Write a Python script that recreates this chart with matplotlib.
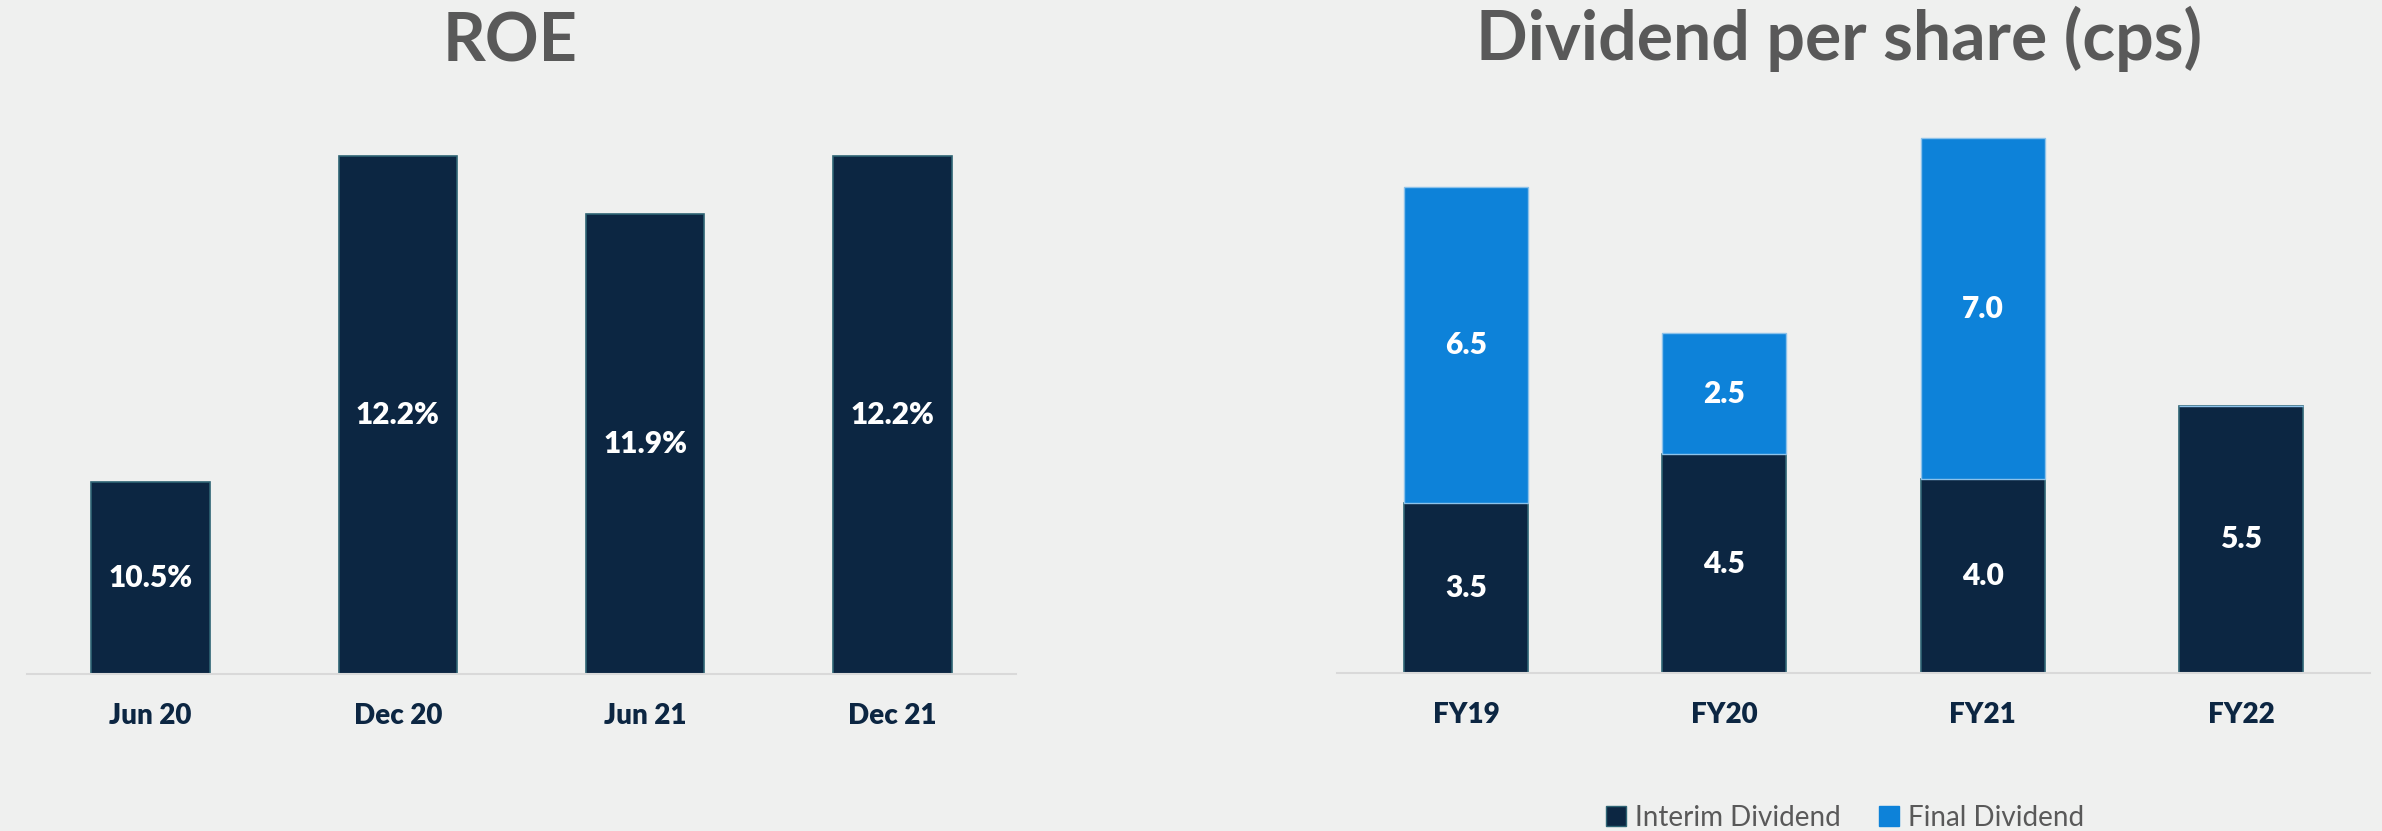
import numpy as np
import matplotlib.pyplot as plt
from matplotlib.patches import Patch

# ROE data
roe_periods = ["Jun 20", "Dec 20", "Jun 21", "Dec 21"]
roe_values = [10.5, 12.2, 11.9, 12.2]

# dividend data (cps)
div_years = ["FY19", "FY20", "FY21", "FY22"]
interim_div = [3.5, 4.5, 4.0, 5.5]
final_div = [6.5, 2.5, 7.0, 0.0]

BG = "#eff0ef"
NAVY = "#0c2642"
BLUE = "#0d82d9"
GREY = "#595959"
FONT = "Lato"

plt.rcParams['font.family'] = [FONT, 'DejaVu Sans']

fig = plt.figure(figsize=(23.82, 8.31), dpi=100)
fig.patch.set_facecolor(BG)

ax1 = fig.add_axes([0.01134, 0.1889, 0.4152, 0.6924])
ax2 = fig.add_axes([0.5613, 0.1901, 0.4337, 0.7018])


def style_axis(ax, labels):
    ax.set_facecolor(BG)
    for s in ["top", "right", "left"]:
        ax.spines[s].set_visible(False)
    ax.spines["bottom"].set_color("#d9d9d9")
    ax.spines["bottom"].set_linewidth(1.5)
    ax.set_yticks([])
    ax.set_xticks(np.arange(len(labels)))
    ax.set_xticklabels(labels, fontsize=20, fontweight="heavy", color=NAVY)
    ax.tick_params(axis="x", length=0, pad=21)
    ax.set_xlim(-0.5, len(labels) - 0.5)


# ROE chart
x1 = np.arange(len(roe_periods))
ax1.bar(x1, roe_values, width=0.48, bottom=0, color=NAVY,
        edgecolor="#2e6474", linewidth=1.2)
ax1.set_ylim(9.5, 12.5)
style_axis(ax1, roe_periods)
for xi, v in zip(x1, roe_values):
    ax1.text(xi, (9.5 + v) / 2, f"{v:.1f}%", ha="center", va="center",
             color="white", fontsize=21.5, fontweight="heavy")

# dividend chart
x2 = np.arange(len(div_years))
ax2.bar(x2, interim_div, width=0.48, color=NAVY, edgecolor="#2e6474",
        linewidth=1.2, label="Interim Dividend")
ax2.bar(x2, final_div, width=0.48, bottom=interim_div, color=BLUE,
        edgecolor="#8cc2ea", linewidth=1.0, label="Final Dividend")
ax2.set_ylim(0, 12)
style_axis(ax2, div_years)
for xi, a, b in zip(x2, interim_div, final_div):
    ax2.text(xi, a / 2, f"{a:.1f}", ha="center", va="center",
             color="white", fontsize=21.5, fontweight="heavy")
    if b > 0:
        ax2.text(xi, a + b / 2, f"{b:.1f}", ha="center", va="center",
                 color="white", fontsize=21.5, fontweight="heavy")

# titles
fig.text(510 / 2382, 1 - 43 / 831, "ROE", ha="center", va="center",
         fontsize=48, fontweight="bold", color=GREY)
fig.text(1839 / 2382, 1 - 39 / 831, "Dividend per share (cps)", ha="center",
         va="center", fontsize=49, fontweight="bold", color=GREY)

handles = [Patch(facecolor=NAVY, edgecolor="#2e6474", label="Interim Dividend"),
           Patch(facecolor=BLUE, edgecolor=BLUE, label="Final Dividend")]
fig.legend(handles=handles, loc="center", bbox_to_anchor=(1845 / 2382, 0.016),
           ncol=2, frameon=False, fontsize=20, labelcolor=GREY,
           handlelength=0.72, handleheight=0.72, handletextpad=0.3,
           columnspacing=1.4)

fig.savefig("out.png", dpi=100, facecolor=BG)
